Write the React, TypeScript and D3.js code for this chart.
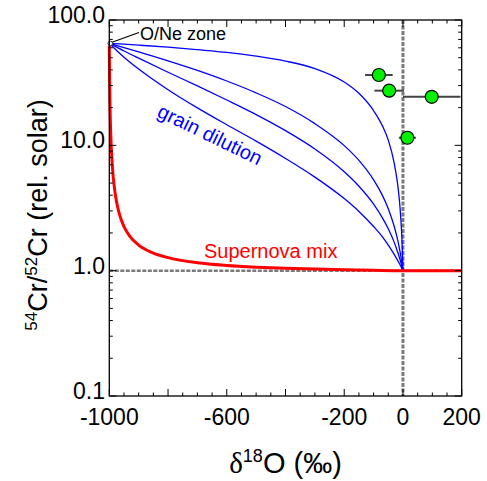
import React from 'react';
import * as d3 from 'd3';

// axis labels
const xTickLabels = [-1000, -600, -200, 0, 200];
const yTickValues = [0.1, 1, 10, 100];
const yTickLabels = ['0.1', '1.0', '10.0', '100.0'];

// grain dilution curves (delta18O, 54Cr/52Cr)
const grainX = [-1000, -950, -900, -800, -700, -600, -500, -400, -300, -200, -150, -100, -70, -50, -30, -20, -15, -10, -5, -2, 0];
const grainA = [65, 64.1, 63.0, 60.7, 58.0, 55.2, 51.5, 47.0, 41.0, 32.0, 26.0, 18.9, 14.3, 11.0, 7.25, 5.27, 4.24, 3.19, 2.11, 1.45, 1];
const grainB = [65, 60.2, 55.7, 47.2, 39.6, 32.6, 26.2, 20.4, 14.9, 9.95, 7.59, 5.31, 3.99, 3.12, 2.26, 1.84, 1.63, 1.42, 1.21, 1.08, 1];
const grainC = [65, 56.6, 49.6, 38.3, 29.8, 23.0, 17.6, 13.1, 9.35, 6.15, 4.72, 3.40, 2.64, 2.16, 1.69, 1.45, 1.34, 1.225, 1.11, 1.045, 1];
const grainD = [65, 50.5, 40.6, 27.8, 19.9, 14.6, 10.8, 7.86, 5.58, 3.76, 2.97, 2.25, 1.86, 1.60, 1.35, 1.23, 1.17, 1.116, 1.058, 1.023, 1];
const grainCurves = [grainA, grainB, grainC, grainD];

// supernova mixing line
const mixX = [-1000, -999, -998, -995, -990, -980, -970, -960, -950, -930, -900, -850, -800, -700, -600, -500, -400, -300, -200, -100, 0, 200];
const mixY = [62, 33.8, 23.0, 12.1, 7.03, 4.13, 3.10, 2.57, 2.25, 1.88, 1.60, 1.38, 1.27, 1.156, 1.10, 1.067, 1.045, 1.029, 1.017, 1.0075, 1, 1];

// measured grains
const pointX = [-82, -47, 98, 15];
const pointY = [36.4, 27.3, 24.4, 11.5];
const pointErr = [47, 50, 98, 29];

const zone = { x: -1000, y: 65 };

const font = 'Liberation Sans, Arial, sans-serif';

const App = () => {
  const width = 487;
  const height = 481;
  const left = 109.3, right = 461.7, top = 20, bottom = 396;

  const x = d3.scaleLinear().domain([-1000, 200]).range([left, right]);
  const y = d3.scaleLog().domain([0.1, 100]).range([bottom, top]);

  const line = d3
    .line<[number, number]>()
    .x((d) => x(d[0]))
    .y((d) => y(d[1]))
    .curve(d3.curveMonotoneX);

  const xTicks = d3.range(-1000, 201, 50);
  const yTicks: { v: number; major: boolean }[] = [];
  [0.1, 1, 10].forEach((dec) => {
    d3.range(1, 10).forEach((k) => yTicks.push({ v: k * dec, major: k === 1 }));
  });
  yTicks.push({ v: 100, major: true });

  return (
    <svg width={width} height={height} style={{ position: 'absolute', left: 0, top: 0 }} fontFamily={font}>
      <rect width={width} height={height} fill="#fff" />

      {/* reference lines */}
      <line x1={x(0)} x2={x(0)} y1={top} y2={bottom} stroke="#7a7a7a" strokeWidth={3} strokeDasharray="4,1.5" />
      <line x1={left} x2={right} y1={y(1)} y2={y(1)} stroke="#7a7a7a" strokeWidth={2.5} strokeDasharray="4,1.5" />

      {/* grain dilution */}
      {grainCurves.map((c, i) => (
        <path
          key={i}
          d={line(grainX.map((v, j) => [v, c[j]] as [number, number])) || ''}
          fill="none"
          stroke="#0000ff"
          strokeWidth={1.3}
        />
      ))}

      {/* supernova mix */}
      <path
        d={line(mixX.map((v, j) => [v, mixY[j]] as [number, number])) || ''}
        fill="none"
        stroke="#ff0000"
        strokeWidth={3}
      />

      {/* error bars */}
      {pointX.map((v, i) => (
        <line
          key={'e' + i}
          x1={x(v - pointErr[i])}
          x2={x(Math.min(200, v + pointErr[i]))}
          y1={y(pointY[i])}
          y2={y(pointY[i])}
          stroke="#444"
          strokeWidth={2}
        />
      ))}
      {pointX.map((v, i) => (
        <circle key={'p' + i} cx={x(v)} cy={y(pointY[i])} r={6.5} fill="#00f000" stroke="#000" strokeWidth={1.2} />
      ))}

      {/* O/Ne zone marker */}
      <line x1={x(zone.x) + 2} y1={y(zone.y) - 1} x2={139} y2={32.5} stroke="#000" strokeWidth={1.2} />
      <circle cx={x(zone.x) + 1} cy={y(zone.y)} r={2.3} fill="#fff" stroke="#333" strokeWidth={1} />
      <text x={140} y={40} fontSize={18} fill="#000">O/Ne zone</text>

      <text x={204} y={258} fontSize={20} fill="#ff0000">Supernova mix</text>
      <text x={156} y={116} fontSize={20} fill="#0000ff" transform="rotate(26,156,116)">grain dilution</text>

      {/* frame */}
      <rect x={left} y={top} width={right - left} height={bottom - top} fill="none" stroke="#000" strokeWidth={1.3} />

      {/* x ticks */}
      {xTicks.map((v) => {
        const len = v % 200 === 0 ? 7 : 3.5;
        return (
          <g key={'xt' + v}>
            <line x1={x(v)} x2={x(v)} y1={bottom} y2={bottom - len} stroke="#000" strokeWidth={1} />
            <line x1={x(v)} x2={x(v)} y1={top} y2={top + len} stroke="#000" strokeWidth={1} />
          </g>
        );
      })}
      {/* y ticks */}
      {yTicks.map((t, i) => {
        const len = t.major ? 7 : 3.5;
        return (
          <g key={'yt' + i}>
            <line x1={left} x2={left + len} y1={y(t.v)} y2={y(t.v)} stroke="#000" strokeWidth={1} />
            <line x1={right} x2={right - len} y1={y(t.v)} y2={y(t.v)} stroke="#000" strokeWidth={1} />
          </g>
        );
      })}

      {xTickLabels.map((v) => (
        <text key={'xl' + v} x={x(v)} y={425} fontSize={23} textAnchor="middle" fill="#000">
          {v}
        </text>
      ))}
      {yTickValues.map((v, i) => (
        <text key={'yl' + v} x={105} y={y(v) + 3} fontSize={23} textAnchor="end" fill="#000">
          {yTickLabels[i]}
        </text>
      ))}

      {/* axis titles */}
      <text x={(left + right) / 2} y={473} fontSize={29} textAnchor="middle" fill="#000">
        <tspan fontFamily="Liberation Serif, serif">δ</tspan>
        <tspan fontSize={18} dy={-11}>18</tspan>
        <tspan dy={11}>O (‰)</tspan>
      </text>
      <text transform="translate(47,215) rotate(-90)" fontSize={27} textAnchor="middle" fill="#000">
        <tspan fontSize={17} dy={-10}>54</tspan>
        <tspan dy={10}>Cr/</tspan>
        <tspan fontSize={17} dy={-10}>52</tspan>
        <tspan dy={10}>Cr (rel. solar)</tspan>
      </text>
    </svg>
  );
};

export default App;
